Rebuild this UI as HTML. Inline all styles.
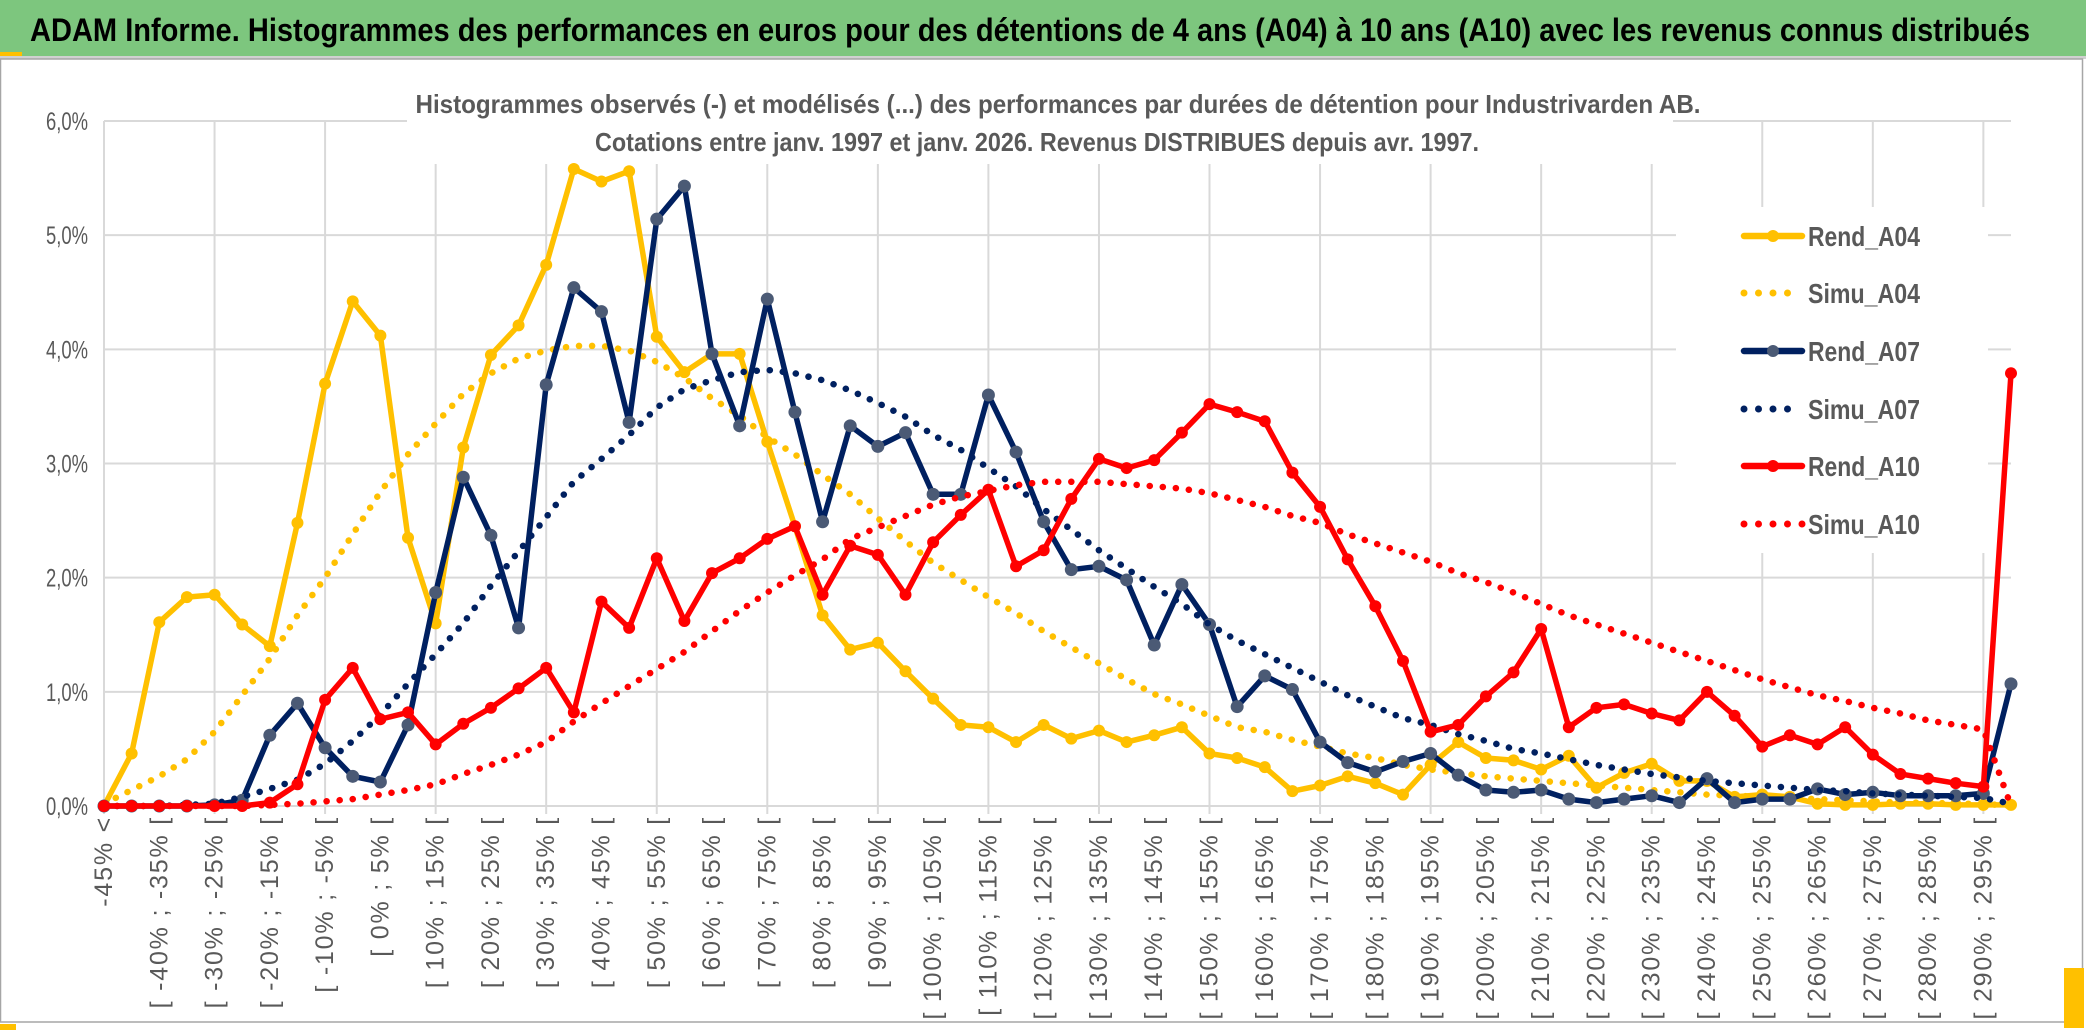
<!DOCTYPE html>
<html><head><meta charset="utf-8"><style>
html,body{margin:0;padding:0;background:#fff;}
svg{display:block;font-family:"Liberation Sans",sans-serif;}
</style></head><body>
<svg id="chart" width="2086" height="1033" viewBox="0 0 2086 1033" xmlns="http://www.w3.org/2000/svg">
<rect x="0" y="0" width="2086" height="1033" fill="#fff"/>
<rect x="0" y="0" width="2086" height="56" fill="#7dc67e"/>
<rect x="0" y="52" width="22" height="4" fill="#ffc000"/>
<line x1="0" y1="57.5" x2="2086" y2="57.5" stroke="#d0d0d0" stroke-width="3"/>
<text x="30" y="41" font-size="32" font-weight="bold" fill="#000" textLength="2000" lengthAdjust="spacingAndGlyphs">ADAM Informe. Histogrammes des performances en euros pour des détentions de 4 ans (A04) à 10 ans (A10) avec les revenus connus distribués</text>
<rect x="0.5" y="59" width="2082" height="963" fill="none" stroke="#a6a6a6" stroke-width="1.5"/>
<rect x="0" y="1024" width="16" height="6" fill="#ffc000"/>
<rect x="2064" y="968" width="20" height="60" fill="#ffc000"/>
<g id="grid"></g>
<rect x="407" y="80" width="1266" height="84" fill="#fff"/>
<rect x="1676" y="207" width="312" height="346" fill="#fff"/>
<text x="1058" y="113" font-size="26" font-weight="bold" fill="#595959" text-anchor="middle" textLength="1285" lengthAdjust="spacingAndGlyphs">Histogrammes observés (-) et modélisés (...) des performances par durées de détention pour Industrivarden AB.</text>
<text x="1037" y="151" font-size="26" font-weight="bold" fill="#595959" text-anchor="middle" textLength="884" lengthAdjust="spacingAndGlyphs">Cotations entre janv. 1997 et janv. 2026. Revenus DISTRIBUES depuis avr. 1997.</text>
<g id="yaxis"></g>
<g id="xaxis"></g>
<g id="series"></g>
<g id="legend"></g>
</svg>
<script>
const categories = ["-45% <","[ -45% ; -40% [","[ -40% ; -35% [","[ -35% ; -30% [","[ -30% ; -25% [","[ -25% ; -20% [","[ -20% ; -15% [","[ -15% ; -10% [","[ -10% ; -5% [","[ -5% ; 0% [",
"[ 0% ; 5% [","[ 5% ; 10% [","[ 10% ; 15% [","[ 15% ; 20% [","[ 20% ; 25% [","[ 25% ; 30% [","[ 30% ; 35% [","[ 35% ; 40% [","[ 40% ; 45% [","[ 45% ; 50% [",
"[ 50% ; 55% [","[ 55% ; 60% [","[ 60% ; 65% [","[ 65% ; 70% [","[ 70% ; 75% [","[ 75% ; 80% [","[ 80% ; 85% [","[ 85% ; 90% [","[ 90% ; 95% [","[ 95% ; 100% [",
"[ 100% ; 105% [","[ 105% ; 110% [","[ 110% ; 115% [","[ 115% ; 120% [","[ 120% ; 125% [","[ 125% ; 130% [","[ 130% ; 135% [","[ 135% ; 140% [","[ 140% ; 145% [","[ 145% ; 150% [",
"[ 150% ; 155% [","[ 155% ; 160% [","[ 160% ; 165% [","[ 165% ; 170% [","[ 170% ; 175% [","[ 175% ; 180% [","[ 180% ; 185% [","[ 185% ; 190% [","[ 190% ; 195% [","[ 195% ; 200% [",
"[ 200% ; 205% [","[ 205% ; 210% [","[ 210% ; 215% [","[ 215% ; 220% [","[ 220% ; 225% [","[ 225% ; 230% [","[ 230% ; 235% [","[ 235% ; 240% [","[ 240% ; 245% [","[ 245% ; 250% [",
"[ 250% ; 255% [","[ 255% ; 260% [","[ 260% ; 265% [","[ 265% ; 270% [","[ 270% ; 275% [","[ 275% ; 280% [","[ 280% ; 285% [","[ 285% ; 290% [","[ 290% ; 295% [","[ 295% ; 300% ["];
const yTicks = [0,1,2,3,4,5,6];
const yTickLabels = ["0,0%","1,0%","2,0%","3,0%","4,0%","5,0%","6,0%"];
const rendA04 = [0,0.46,1.61,1.83,1.85,1.59,1.40,2.48,3.70,4.42, 4.12,2.35,1.60,3.14,3.95,4.21,4.74,5.58,5.47,5.56, 4.11,3.80,3.96,3.96,3.19,2.45,1.67,1.37,1.43,1.18, 0.94,0.71,0.69,0.56,0.71,0.59,0.66,0.56,0.62,0.69, 0.46,0.42,0.34,0.13,0.18,0.26,0.20,0.10,0.36,0.56, 0.42,0.40,0.32,0.44,0.16,0.29,0.37,0.22,0.22,0.08, 0.10,0.08,0.02,0.01,0.01,0.02,0.02,0.01,0.01,0.01];
const simuA04 = [0.02,0.14,0.26,0.41,0.65,0.97,1.29,1.67,2.00,2.38, 2.75,3.08,3.35,3.61,3.79,3.92,3.99,4.03,4.03,3.99, 3.89,3.75,3.57,3.42,3.23,3.08,2.90,2.73,2.52,2.32, 2.13,1.98,1.83,1.69,1.53,1.39,1.25,1.11,0.98,0.89, 0.79,0.69,0.65,0.58,0.52,0.46,0.42,0.36,0.32,0.29, 0.26,0.24,0.22,0.20,0.18,0.16,0.14,0.12,0.10,0.09, 0.08,0.07,0.06,0.05,0.04,0.03,0.03,0.02,0.02,0.0];
const rendA07 = [0,0,0,0,0.01,0.05,0.62,0.90,0.51,0.26, 0.21,0.71,1.87,2.88,2.37,1.56,3.69,4.54,4.33,3.36, 5.14,5.43,3.96,3.33,4.44,3.45,2.49,3.33,3.15,3.27, 2.73,2.73,3.60,3.10,2.49,2.07,2.10,1.98,1.41,1.94, 1.59,0.87,1.14,1.02,0.56,0.38,0.30,0.39,0.46,0.27, 0.14,0.12,0.14,0.06,0.03,0.06,0.09,0.03,0.24,0.03, 0.06,0.06,0.15,0.10,0.12,0.09,0.09,0.09,0.11,1.07];
const simuA07 = [0,0,0,0.01,0.02,0.08,0.15,0.23,0.37,0.57, 0.80,1.07,1.33,1.60,1.93,2.23,2.53,2.84,3.04,3.25, 3.49,3.65,3.73,3.80,3.82,3.79,3.73,3.64,3.53,3.41, 3.25,3.12,2.96,2.80,2.60,2.42,2.24,2.08,1.92,1.77, 1.59,1.45,1.33,1.21,1.09,0.97,0.87,0.77,0.71,0.63, 0.57,0.50,0.46,0.41,0.36,0.32,0.28,0.25,0.22,0.20, 0.18,0.16,0.14,0.13,0.11,0.10,0.09,0.08,0.07,0.02];
const rendA10 = [0,0,0,0,0,0,0.03,0.19,0.93,1.21, 0.76,0.82,0.54,0.72,0.86,1.03,1.21,0.82,1.79,1.56, 2.17,1.62,2.04,2.17,2.34,2.45,1.85,2.28,2.20,1.85, 2.31,2.55,2.77,2.10,2.24,2.69,3.04,2.96,3.03,3.27, 3.52,3.45,3.37,2.92,2.62,2.16,1.75,1.27,0.65,0.71, 0.96,1.17,1.55,0.69,0.86,0.89,0.81,0.75,1.00,0.79, 0.52,0.62,0.54,0.69,0.45,0.28,0.24,0.20,0.17,3.79];
const simuA10 = [0,0,0,0,0,0,0.01,0.02,0.04,0.06, 0.10,0.14,0.19,0.28,0.36,0.45,0.56,0.74,0.90,1.05, 1.20,1.35,1.53,1.71,1.87,2.02,2.16,2.34,2.44,2.54, 2.64,2.71,2.76,2.81,2.84,2.84,2.84,2.82,2.80,2.78, 2.74,2.68,2.62,2.54,2.48,2.38,2.30,2.22,2.14,2.04, 1.96,1.87,1.77,1.67,1.59,1.51,1.43,1.35,1.27,1.19, 1.11,1.04,0.97,0.92,0.86,0.81,0.75,0.71,0.67,0.0];
const legendLabels = ["Rend_A04","Simu_A04","Rend_A07","Simu_A07","Rend_A10","Simu_A10"];

const NS = "http://www.w3.org/2000/svg";
const X0 = 104, X1 = 2011, Y0 = 806, YTOP = 121, YMAX = 6;
function xPos(i){ return X0 + i * (X1 - X0) / (categories.length - 1); }
function yPos(v){ return Y0 - v * (Y0 - YTOP) / YMAX; }
function mk(tag, attrs, parent){ const e = document.createElementNS(NS, tag); for (const k in attrs) e.setAttribute(k, attrs[k]); parent.appendChild(e); return e; }

const grid = document.getElementById('grid');
yTicks.forEach(function(t){
  const l = mk('line', {x1: X0, x2: X1, y1: yPos(t), y2: yPos(t), stroke: '#d9d9d9', 'stroke-width': 2}, grid);
  
  
});
categories.forEach(function(c, i){
  if (i % 4 !== 0) return;
  const l = mk('line', {x1: xPos(i), x2: xPos(i), y1: YTOP, y2: Y0 + 8, stroke: '#d9d9d9', 'stroke-width': 2}, grid);
  
  
});

const yaxis = document.getElementById('yaxis');
yTicks.forEach(function(t, i){
  const tx = mk('text', {x: 88, y: yPos(t) + 9, 'font-size': 25, fill: '#595959', 'text-anchor': 'end', textLength: 42, lengthAdjust: 'spacingAndGlyphs'}, yaxis);
  tx.textContent = yTickLabels[i];
  
  
});

const xaxis = document.getElementById('xaxis');
categories.forEach(function(c, i){
  if (i % 2 !== 0) return;
  const x = xPos(i) + 8;
  const tx = mk('text', {x: x, y: 816, 'font-size': 25, fill: '#595959', 'text-anchor': 'end', 'letter-spacing': 1.8, transform: 'rotate(-90 ' + x + ' 816)'}, xaxis);
  tx.textContent = c;
  
  
});

const seriesG = document.getElementById('series');
function drawSolid(vals, color, mcolor, mr, name){
  const g = mk('g', {}, seriesG);
  
  
  const pts = vals.map(function(v, i){ return xPos(i).toFixed(1) + ',' + yPos(v).toFixed(1); }).join(' ');
  const pl = mk('polyline', {points: pts, fill: 'none', stroke: color, 'stroke-width': 5.5, 'stroke-linejoin': 'round'}, g);
  
  
  vals.forEach(function(v, i){
    const c = mk('circle', {cx: xPos(i), cy: yPos(v), r: mr, fill: mcolor}, g);
    
    
  });
}
function drawDotted(vals, color, name){
  const pts = vals.map(function(v, i){ return xPos(i).toFixed(1) + ',' + yPos(v).toFixed(1); }).join(' ');
  const pl = mk('polyline', {points: pts, fill: 'none', stroke: color, 'stroke-width': 6.5, 'stroke-linecap': 'round', 'stroke-dasharray': '0.1 13'}, seriesG);
  
  
}
drawSolid(rendA04, '#ffc000', '#ffc000', 6, 'rend-a04');
drawDotted(simuA04, '#ffc000', 'simu-a04');
drawSolid(rendA07, '#002060', '#4b5a75', 6.5, 'rend-a07');
drawDotted(simuA07, '#002060', 'simu-a07');
drawSolid(rendA10, '#ff0000', '#ff0000', 6, 'rend-a10');
drawDotted(simuA10, '#ff0000', 'simu-a10');

const legend = document.getElementById('legend');
const legColors = ['#ffc000','#ffc000','#002060','#002060','#ff0000','#ff0000'];
const legMarker = ['#ffc000',null,'#4b5a75',null,'#ff0000',null];
const legY = [236, 293, 351, 409, 466, 524];
legendLabels.forEach(function(lbl, i){
  const g = mk('g', {}, legend);
  
  
  const y = legY[i];
  if (legMarker[i]) {
    mk('line', {x1: 1744, x2: 1802, y1: y, y2: y, stroke: legColors[i], 'stroke-width': 6.5, 'stroke-linecap': 'round'}, g);
    mk('circle', {cx: 1773, cy: y, r: 6, fill: legMarker[i]}, g);
  } else {
    const n = (i === 5) ? 5 : 4;
    for (let k = 0; k < n; k++) mk('circle', {cx: 1744 + k * 14.5, cy: y, r: 3.5, fill: legColors[i]}, g);
  }
  const t = mk('text', {x: 1808, y: y + 10, 'font-size': 28, 'font-weight': 'bold', fill: '#595959', textLength: 112, lengthAdjust: 'spacingAndGlyphs'}, g);
  t.textContent = lbl;
});
</script>
</body></html>
